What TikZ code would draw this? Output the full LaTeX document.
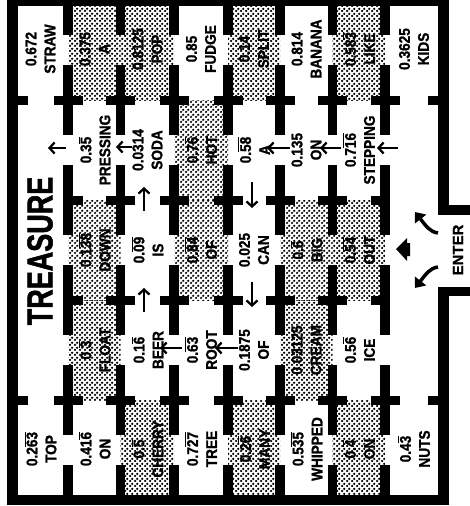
\documentclass[tikz,border=0pt]{standalone}
\usepackage{fontspec}
\setmainfont{Liberation Sans}
\newfontfamily\condfont[FakeStretch=0.75,FakeBold=1.5]{Liberation Sans}
\newfontfamily\cellfont[FakeStretch=0.88,FakeBold=1.2]{Liberation Sans}
\newfontfamily\enterfont[FakeBold=1]{Liberation Sans}
\usetikzlibrary{patterns,arrows.meta}
\pgfdeclarepatternformonly{halftone}{\pgfqpoint{0pt}{0pt}}{\pgfqpoint{4.6pt}{4.6pt}}{\pgfqpoint{4.6pt}{4.6pt}}{%
  \pgfpathcircle{\pgfqpoint{1.15pt}{1.15pt}}{1.35pt}%
  \pgfpathcircle{\pgfqpoint{3.45pt}{3.45pt}}{1.35pt}%
  \pgfusepath{fill}%
}
\newcommand\repbar[1]{$\overline{\hbox{#1}}$}
\tikzset{
  cell/.style={rotate=90, align=center, inner sep=0pt, font=\cellfont\bfseries\fontsize{15.5}{19}\selectfont},
  shade/.style={pattern=halftone, pattern color=black},
  pathmark/.style={line width=2.3pt, -{Straight Barb[length=5pt,width=11pt]}},
  wall/.style={fill=black}
}
\begin{document}
\begin{tikzpicture}[x=1pt,y=-1pt]
\useasboundingbox (0,0) rectangle (469,506);
% shaded rooms
\fill[shade] (68,0) rectangle (120.5,100);
\fill[shade] (120.5,0) rectangle (174,100);
\fill[shade] (228,0) rectangle (280,100);
\fill[shade] (332.5,0) rectangle (385,100);
\fill[shade] (174,100) rectangle (228,200);
\fill[shade] (68,200) rectangle (120.5,300);
\fill[shade] (174,200) rectangle (228,300);
\fill[shade] (280,200) rectangle (332.5,300);
\fill[shade] (332.5,200) rectangle (385,300);
\fill[shade] (68,300) rectangle (120.5,400);
\fill[shade] (280,300) rectangle (332.5,400);
\fill[shade] (120.5,400) rectangle (174,500);
\fill[shade] (228,400) rectangle (280,500);
\fill[shade] (332.5,400) rectangle (385,500);
% vertical walls with doors
\foreach \xx in {68,120.5,174,228,280,332.5,385}{
  \foreach \yc in {50,150,250,350,450}{
    \fill[wall] ({\xx-4.75},{\yc-50}) rectangle ({\xx+4.75},{\yc-15});
    \fill[wall] ({\xx-4.75},{\yc+15}) rectangle ({\xx+4.75},{\yc+50});
  }
}
% cross arms
\foreach \xx in {68,120.5,174,228,280,332.5,385}{
  \foreach \yy in {100,400}{
    \fill[wall] ({\xx-14.5},{\yy-4.5}) rectangle ({\xx+14.5},{\yy+4.5});
  }
}
\foreach \xx in {120.5,174,228,280,332.5}{
  \foreach \yy in {200,300}{
    \fill[wall] ({\xx-14.5},{\yy-4.5}) rectangle ({\xx+14.5},{\yy+4.5});
  }
}
\foreach \yy in {200,300}{
  \fill[wall] (68,{\yy-4.5}) rectangle (82.5,{\yy+4.5});
  \fill[wall] (370.5,{\yy-4.5}) rectangle (385,{\yy+4.5});
}
% outer frame
\fill[wall] (7,-2) rectangle (449,6);
\fill[wall] (7,-2) rectangle (18,505);
\fill[wall] (7,495) rectangle (449,505);
\fill[wall] (438,-2) rectangle (449,215);
\fill[wall] (438,287) rectangle (449,505);
\fill[wall] (438,205) rectangle (470,215);
\fill[wall] (438,287) rectangle (470,296);
\foreach \yy in {100,400}{
  \fill[wall] (18,{\yy-4.5}) rectangle (27.5,{\yy+4.5});
  \fill[wall] (428,{\yy-4.5}) rectangle (438,{\yy+4.5});
}
% room texts
\node[cell] (a1) at (40.5,49) {0.672\\STRAW};
\node[cell] (a2) at (94.5,49) {0.375\\A};
\node[cell] (a3) at (147.5,49) {0.8125\\POP};
\node[cell] (a4) at (201,49) {0.85\\FUDGE};
\node[cell] (a5) at (254,49) {0.14\\SPLIT};
\node[cell] (a6) at (306.5,49) {0.814\\BANANA};
\node[cell] (a7) at (359,49) {0.58\repbar{3}\\LIKE};
\node[cell] (a8) at (414,49) {0.3625\\KIDS};
\node[cell] (b2) at (94.5,150) {0.3\repbar{5}\\PRESSING};
\node[cell] (b3) at (147.5,150) {0.0314\\SODA};
\node[cell] (b4) at (201,150) {0.7\repbar{6}\\HOT};
\node[cell] (b5) at (254,150) {0.\repbar{58}\\A};
\node[cell] (b6) at (306.5,150) {0.135\\ON};
\node[cell] (b7) at (359,150) {0.7\repbar{16}\\STEPPING};
\node[cell] (c2) at (94.5,250) {0.1\repbar{38}\\DOWN};
\node[cell] (c3) at (147.5,250) {0.\repbar{09}\\IS};
\node[cell] (c4) at (201,250) {0.\repbar{84}\\OF};
\node[cell] (c5) at (254,250) {0.025\\CAN};
\node[cell] (c6) at (306.5,250) {0.\repbar{6}\\BIG};
\node[cell] (c7) at (359,250) {0.\repbar{54}\\OUT};
\node[cell] (d2) at (94.5,350) {0.\repbar{3}\\FLOAT};
\node[cell] (d3) at (147.5,350) {0.1\repbar{6}\\BEER};
\node[cell] (d4) at (201,350) {0.\repbar{63}\\ROOT};
\node[cell] (d5) at (254,350) {0.1875\\OF};
\node[cell] (d6) at (306.5,350) {0.03125\\CREAM};
\node[cell] (d7) at (359,350) {0.5\repbar{6}\\ICE};
\node[cell] (e1) at (40.5,449) {0.2\repbar{63}\\TOP};
\node[cell] (e2) at (94.5,449) {0.41\repbar{6}\\ON};
\node[cell] (e3) at (147.5,449) {0.\repbar{5}\\CHERRY};
\node[cell] (e4) at (201,449) {0.7\repbar{27}\\TREE};
\node[cell] (e5) at (254,449) {0.2\repbar{6}\\MANY};
\node[cell] (e6) at (306.5,449) {0.5\repbar{35}\\WHIPPED};
\node[cell] (e7) at (359,449) {0.\repbar{4}\\ON};
\node[cell] (e8) at (414,449) {0.4\repbar{3}\\NUTS};
\node[rotate=90, inner sep=0pt, font=\condfont\bfseries\fontsize{36}{36}\selectfont] (treasure) at (40,251) {TREASURE};
\node[rotate=90, inner sep=0pt, font=\enterfont\bfseries\fontsize{15}{15}\selectfont] (enter) at (458,250) {ENTER};
% path arrows
\draw[pathmark] (66,148) -- (48,148);
\draw[pathmark] (132,147) -- (116,147);
\draw[pathmark] (144,211) -- (144,187);
\draw[pathmark] (144,312) -- (144,288);
\draw[pathmark] (182,348) -- (160,348);
\draw[pathmark] (238,348) -- (215,348);
\draw[pathmark] (252,182) -- (252,208);
\draw[pathmark] (252,282) -- (252,307);
\draw[pathmark] (290,148) -- (267,148);
\draw[pathmark] (341,148) -- (320,148);
\draw[pathmark] (398,148) -- (377,148);
% entrance arrows
\draw[line width=3.5pt, -{Triangle[length=9pt,width=14pt]}] (438,233) .. controls (430,232) and (426,226) .. (415,212);
\draw[line width=3.5pt, -{Triangle[length=9pt,width=14pt]}] (438,267) .. controls (430,268) and (426,274) .. (415,288);
\fill (396,249) -- (407,238) -- (407,243) -- (410,243) -- (410,256) -- (407,256) -- (407,261) -- cycle;
\end{tikzpicture}
\end{document}
